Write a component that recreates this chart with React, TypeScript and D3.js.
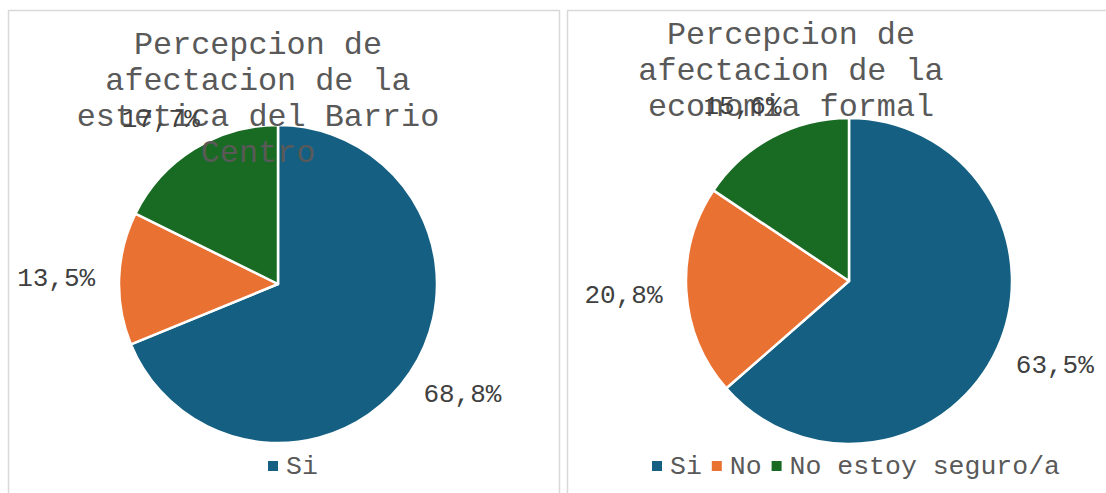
import React from 'react';
import * as d3 from 'd3';

// data
const categories = ['Si', 'No', 'No estoy seguro/a'];
const esteticaValues = [68.8, 13.5, 17.7];
const economiaValues = [63.5, 20.8, 15.6];
const esteticaTitle = ['Percepcion de', 'afectacion de la', 'estetica del Barrio', 'Centro'];
const economiaTitle = ['Percepcion de', 'afectacion de la', 'economia formal'];
const colors = ['#156082', '#E97132', '#196B24'];

const FONT = '"Liberation Mono", "Courier New", monospace';
const LABEL_SIZE = 26;
const fmt = (v: number) => d3.format('.1f')(v).replace('.', ',') + '%';

type PieProps = {
  values: number[];
  title: string[];
  cx: number;
  cy: number;
  r: number;
  titleX: number;
  titleY: number;
  legendItems: number[];
  legendX: number;
};

const Pie = ({ values, title, cx, cy, r, titleX, titleY, legendItems, legendX }: PieProps) => {
  const pie = d3.pie<number>().sort(null).value((d) => d);
  const arcs = pie(values);
  const arc = d3.arc<d3.PieArcDatum<number>>().innerRadius(0).outerRadius(r);
  const labelArc = d3.arc<d3.PieArcDatum<number>>().innerRadius(r + 24).outerRadius(r + 24);

  // legend layout, measured by char count (monospace)
  const charW = 26.5 * 0.6;
  let lx = legendX;
  const legend = legendItems.map((i) => {
    const item = { i, x: lx };
    lx += 10 + 8 + categories[i].length * charW + 10;
    return item;
  });

  return (
    <g>
      <g transform={`translate(${cx},${cy})`}>
        {arcs.map((a, i) => (
          <path key={i} d={arc(a) || ''} fill={colors[i]} stroke="#fff" strokeWidth={2.5} strokeLinejoin="round" />
        ))}
      </g>
      <g fontFamily={FONT} fontSize={31.8} fill="#595959" textAnchor="middle">
        {title.map((t, i) => (
          <text key={i} x={titleX} y={titleY + i * 36}>{t}</text>
        ))}
      </g>
      <g transform={`translate(${cx},${cy})`} fontFamily={FONT} fontSize={LABEL_SIZE} fill="#404040" textAnchor="middle">
        {arcs.map((a, i) => {
          const [x, y] = labelArc.centroid(a);
          const mid = (a.startAngle + a.endAngle) / 2;
          const txt = fmt(values[i]);
          // push the label box outward so its edge sits at the anchor point
          const w = txt.length * LABEL_SIZE * 0.6;
          const h = LABEL_SIZE;
          const bx = x + Math.sin(mid) * w / 2;
          const by = y - Math.cos(mid) * h / 2;
          return (
            <text key={i} x={bx} y={by} dy="0.35em">{txt}</text>
          );
        })}
      </g>
      <g fontFamily={FONT} fontSize={26.5} fill="#595959">
        {legend.map(({ i, x }) => (
          <g key={i}>
            <rect x={x} y={461} width={10} height={10} fill={colors[i]} />
            <text x={x + 18} y={474}>{categories[i]}</text>
          </g>
        ))}
      </g>
    </g>
  );
};

export default function App() {
  return (
    <svg width={1106} height={493} style={{ position: 'absolute', left: 0, top: 0, background: '#fff' }}>
      <rect x={0} y={0} width={1106} height={493} fill="#fff" />
      <rect x={8.5} y={10.5} width={551} height={500} fill="#fff" stroke="#d9d9d9" strokeWidth={1.5} />
      <rect x={567.5} y={10.5} width={580} height={500} fill="#fff" stroke="#d9d9d9" strokeWidth={1.5} />
      <Pie
        values={esteticaValues}
        title={esteticaTitle}
        cx={278}
        cy={284}
        r={159}
        titleX={258}
        titleY={54}
        legendItems={[0]}
        legendX={268}
      />
      <Pie
        values={economiaValues}
        title={economiaTitle}
        cx={849}
        cy={281}
        r={163}
        titleX={791}
        titleY={44}
        legendItems={[0, 1, 2]}
        legendX={652}
      />
    </svg>
  );
}
